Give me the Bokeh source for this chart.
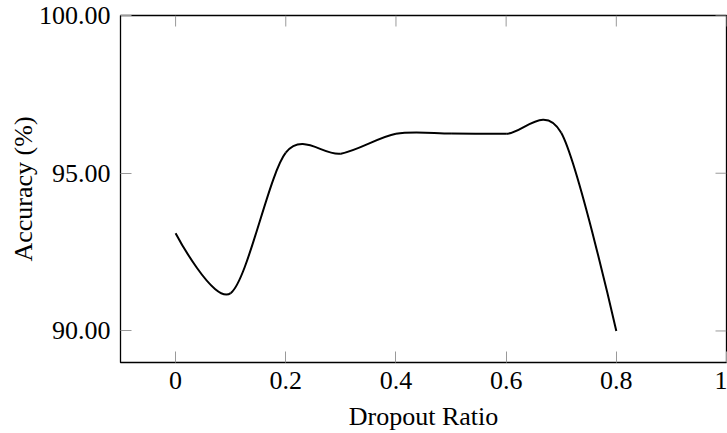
import math
from bokeh.plotting import figure
from bokeh.models import FixedTicker, PrintfTickFormatter, Range1d, ColumnDataSource
from bokeh.embed import file_html
from bokeh.resources import INLINE

# ---- data ----
dropout = [0.0, 0.1, 0.2, 0.3, 0.4, 0.5, 0.6, 0.7, 0.8]
accuracy = [93.10, 91.20, 95.65, 95.62, 96.25, 96.26, 96.25, 96.28, 90.00]
x_ticks = [0, 0.2, 0.4, 0.6, 0.8, 1]
x_tick_labels = ["0", "0.2", "0.4", "0.6", "0.8", "1"]
y_ticks = [90, 95, 100]
x_min, x_max = -0.1, 1.0
y_min, y_max = 89, 100
x_title = "Dropout Ratio"
y_title = "Accuracy (%)"

# ---- smooth curve (TikZ/pgfplots "smooth", tension 0.55) as cubic Bezier pieces ----
TENSION = 0.55
f = 0.2775 * TENSION
n = len(dropout)
seg = {k: [] for k in ("x0", "y0", "x1", "y1", "cx0", "cy0", "cx1", "cy1")}
for i in range(n - 1):
    xa, ya = dropout[i], accuracy[i]
    xb, yb = dropout[i + 1], accuracy[i + 1]
    if i == 0:
        c0 = (xa, ya)
    else:
        c0 = (xa + f * (dropout[i + 1] - dropout[i - 1]), ya + f * (accuracy[i + 1] - accuracy[i - 1]))
    if i + 1 == n - 1:
        c1 = (xb, yb)
    else:
        c1 = (xb - f * (dropout[i + 2] - dropout[i]), yb - f * (accuracy[i + 2] - accuracy[i]))
    seg["x0"].append(xa); seg["y0"].append(ya)
    seg["x1"].append(xb); seg["y1"].append(yb)
    seg["cx0"].append(c0[0]); seg["cy0"].append(c0[1])
    seg["cx1"].append(c1[0]); seg["cy1"].append(c1[1])
src = ColumnDataSource(seg)

FONT = "Liberation Serif"
FS = "26px"
TICK_COLOR = "#9a9a9a"
TICK_LEN = 11

p = figure(width=727, height=433, output_backend="svg", toolbar_location=None,
           x_range=Range1d(x_min, x_max), y_range=Range1d(y_min, y_max),
           min_border_left=120, min_border_right=1, min_border_top=15, min_border_bottom=71,
           x_axis_label=x_title, y_axis_label=y_title)
p.xgrid.visible = False
p.ygrid.visible = False
p.background_fill_color = "white"
p.border_fill_color = "white"
p.outline_line_color = "black"
p.outline_line_width = 1.3
p.outline_line_alpha = 1.0

p.bezier(x0="x0", y0="y0", x1="x1", y1="y1", cx0="cx0", cy0="cy0", cx1="cx1", cy1="cy1",
         source=src, line_color="black", line_width=2)

# ticks on the opposite (top / right) sides of the box, pointing inwards
p.ray(x=x_ticks, y=[y_max] * len(x_ticks), length=TICK_LEN, length_units="screen",
      angle=-math.pi / 2, line_color=TICK_COLOR, line_width=1)
p.ray(x=[x_max] * len(y_ticks), y=y_ticks, length=TICK_LEN, length_units="screen",
      angle=math.pi, line_color=TICK_COLOR, line_width=1)

def style(ax):
    ax.major_tick_in = TICK_LEN
    ax.major_tick_out = 0
    ax.major_tick_line_color = TICK_COLOR
    ax.major_tick_line_width = 1
    ax.minor_tick_line_color = None
    ax.axis_line_color = None
    ax.major_label_text_font = FONT
    ax.major_label_text_font_size = FS
    ax.major_label_text_color = "black"
    ax.axis_label_text_font = FONT
    ax.axis_label_text_font_size = FS
    ax.axis_label_text_font_style = "normal"
    ax.axis_label_text_color = "black"

xax = p.xaxis[0]
style(xax)
xax.ticker = FixedTicker(ticks=x_ticks)
xax.major_label_overrides = {t: l for t, l in zip(x_ticks, x_tick_labels)}
xax.major_label_standoff = 9
xax.axis_label_standoff = 10

yax = p.yaxis[0]
style(yax)
yax.ticker = FixedTicker(ticks=y_ticks)
yax.formatter = PrintfTickFormatter(format="%.2f")
yax.major_label_standoff = 10
yax.axis_label_standoff = -2

open("out.html", "w").write(file_html(p, INLINE))
